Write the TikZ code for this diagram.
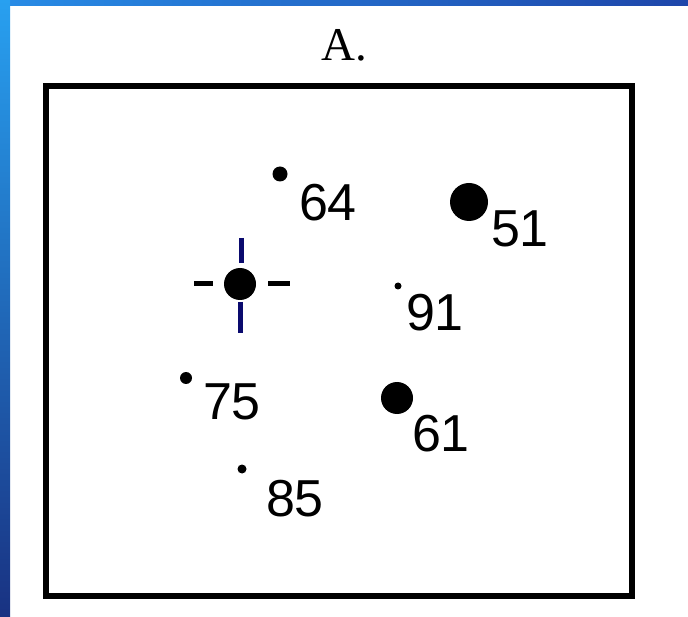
\documentclass[tikz,border=0pt]{standalone}
\usepackage{fontspec}
\setmainfont{Liberation Serif}
\newfontfamily\labfont{Liberation Sans}
\definecolor{topL}{RGB}{40,140,230}
\definecolor{topM}{RGB}{58,80,235}
\definecolor{topR}{RGB}{30,70,170}
\definecolor{sideT}{RGB}{40,160,240}
\definecolor{sideB}{RGB}{25,50,130}
\definecolor{navytick}{RGB}{10,10,110}
\begin{document}
\begin{tikzpicture}[x=1pt,y=-1pt,
  dot/.style={circle,fill=black,inner sep=0pt,minimum size=#1},
  lab/.style={font=\labfont\fontsize{52}{60}\selectfont,inner sep=0pt,text=black},
  tick/.style={line width=5pt}]
\useasboundingbox (0,0) rectangle (688,617);
\fill[white] (0,0) rectangle (688,617);
% slide background strips
\shade[left color=topL, middle color=topM, right color=topR] (0,0) rectangle (688,6);
\shade[top color=sideT, bottom color=sideB] (0,0) rectangle (10,617);
% title
\node[font=\fontsize{47}{54}\selectfont,inner sep=0pt] (title) at (344,45) {A.};
% frame
\draw[line width=5.5pt] (46,86) rectangle (632,596);
% points
\node[dot=15pt] (p64) at (280,174) {};
\node[lab] (l64) at (328,203) {64};
\node[dot=38pt] (p51) at (469,202) {};
\node[lab] (l51) at (520,229) {51};
\node[dot=7pt] (p91) at (398,286) {};
\node[lab] (l91) at (435,313) {91};
\node[dot=12pt] (p75) at (186,378) {};
\node[lab] (l75) at (232,402) {75};
\node[dot=32pt] (p61) at (397,398) {};
\node[lab] (l61) at (441,434) {61};
\node[dot=9pt] (p85) at (242,469) {};
\node[lab] (l85) at (295,499) {85};
% marked point with crosshair
\node[dot=32pt] (pc) at (240,284) {};
\coordinate (cl1) at (194,284); \coordinate (cl2) at (213,284);
\coordinate (cr1) at (268,284); \coordinate (cr2) at (290,284);
\coordinate (ct1) at (241,238); \coordinate (ct2) at (241,263);
\coordinate (cb1) at (240,302); \coordinate (cb2) at (240,333);
\draw[tick] (cl1) -- (cl2);
\draw[tick] (cr1) -- (cr2);
\draw[tick,navytick] (ct1) -- (ct2);
\draw[tick,navytick] (cb1) -- (cb2);
\end{tikzpicture}
\end{document}
